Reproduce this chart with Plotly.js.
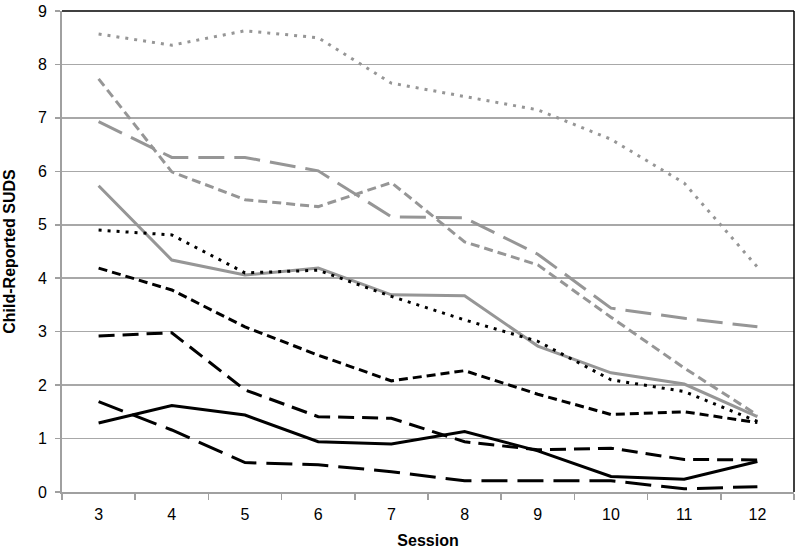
<!DOCTYPE html>
<html>
<head>
<meta charset="utf-8">
<script src="https://cdn.plot.ly/plotly-3.0.1.min.js"></script>
<style>
  html, body { margin: 0; padding: 0; background: #fff; }
  #chart { width: 800px; height: 549px; }
</style>
</head>
<body>
<div id="chart"></div>
<script>
// Sessions on the x axis
var sessions = ["3", "4", "5", "6", "7", "8", "9", "10", "11", "12"];

// Child-reported SUDS, one array per child
var grayDotted    = [8.57, 8.36, 8.63, 8.50, 7.65, 7.40, 7.15, 6.60, 5.78, 4.21];
var grayShortDash = [7.73, 5.99, 5.47, 5.34, 5.79, 4.68, 4.25, 3.27, 2.32, 1.44];
var grayLongDash  = [6.93, 6.26, 6.26, 6.01, 5.15, 5.13, 4.45, 3.44, 3.25, 3.09];
var graySolid     = [5.73, 4.34, 4.06, 4.19, 3.69, 3.67, 2.73, 2.23, 2.02, 1.41];
var blackDotted   = [4.90, 4.81, 4.10, 4.15, 3.66, 3.22, 2.82, 2.10, 1.88, 1.32];
var blackShortDash= [4.19, 3.78, 3.09, 2.56, 2.08, 2.27, 1.83, 1.45, 1.50, 1.30];
var blackMedDash  = [2.92, 2.98, 1.91, 1.41, 1.38, 0.94, 0.79, 0.82, 0.61, 0.60];
var blackSolid    = [1.29, 1.62, 1.44, 0.94, 0.90, 1.13, 0.77, 0.29, 0.24, 0.57];
var blackLongDash = [1.69, 1.16, 0.55, 0.51, 0.38, 0.21, 0.21, 0.21, 0.06, 0.10];

var gray = "#969696";
var black = "#000000";

function line(y, color, dash) {
  return {
    x: sessions,
    y: y,
    type: "scatter",
    mode: "lines",
    line: {color: color, width: 3, dash: dash},
    hoverinfo: "skip"
  };
}

var data = [
  line(grayDotted, gray, "3px,6px"),
  line(grayShortDash, gray, "9px,5px"),
  line(grayLongDash, gray, "26px,10px"),
  line(graySolid, gray, "solid"),
  line(blackDotted, black, "3px,6px"),
  line(blackShortDash, black, "9px,5px"),
  line(blackMedDash, black, "16px,8px"),
  line(blackSolid, black, "solid"),
  line(blackLongDash, black, "26px,10px")
];

var layout = {
  width: 800,
  height: 549,
  margin: {l: 62, r: 6, t: 11, b: 57},
  paper_bgcolor: "#fff",
  plot_bgcolor: "#fff",
  showlegend: false,
  font: {family: "Liberation Sans, Arial, sans-serif", size: 16, color: "#000"},
  xaxis: {
    type: "category",
    range: [-0.5, 9.5],
    tickson: "boundaries",
    ticks: "outside",
    ticklen: 6,
    tickcolor: "#a0a0a0",
    tickwidth: 1.5,
    ticklabelstandoff: 7,
    showgrid: false,
    showline: true,
    linecolor: "#a0a0a0",
    linewidth: 2,
    zeroline: false,
    tickfont: {size: 16},
    title: {text: "<b>Session</b>", font: {size: 16}, standoff: 14},
    automargin: false
  },
  yaxis: {
    range: [0, 9],
    dtick: 1,
    ticks: "outside",
    ticklen: 5,
    tickcolor: "#a0a0a0",
    tickwidth: 1.5,
    ticklabelstandoff: 5,
    showgrid: true,
    gridcolor: "#a8a8a8",
    gridwidth: 1.5,
    showline: true,
    linecolor: "#a0a0a0",
    linewidth: 2,
    zeroline: false,
    tickfont: {size: 16},
    title: {text: "<b>Child-Reported SUDS</b>", font: {size: 16}, standoff: 18},
    automargin: false
  },
  shapes: [
    {type: "line", xref: "paper", yref: "paper", x0: 0, x1: 1, y0: 1, y1: 1,
     line: {color: "#000", width: 1.5}},
    {type: "line", xref: "paper", yref: "paper", x0: 1, x1: 1, y0: 0, y1: 1,
     line: {color: "#000", width: 1.5}}
  ]
};

Plotly.newPlot("chart", data, layout, {displayModeBar: false, staticPlot: true});
</script>
</body>
</html>
